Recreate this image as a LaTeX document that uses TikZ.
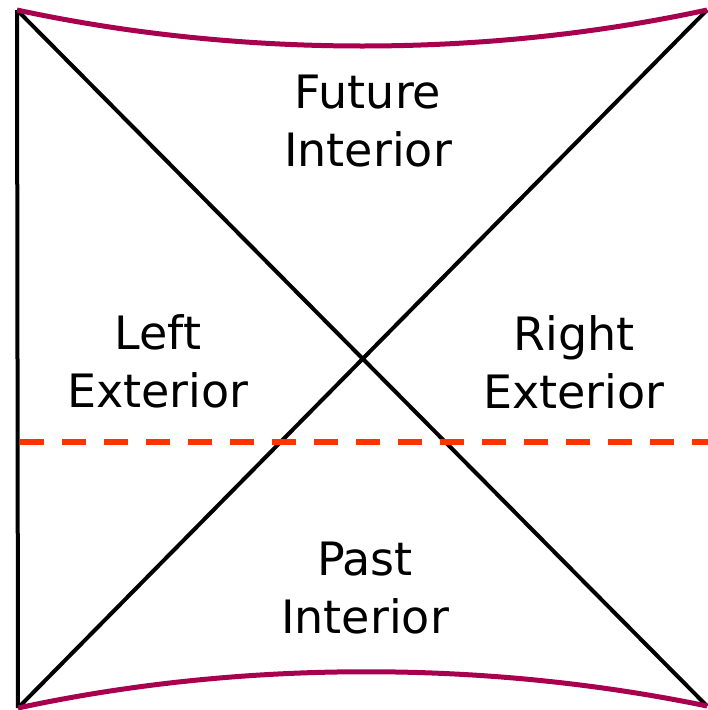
\documentclass[tikz,border=0pt]{standalone}
\usepackage{fontspec}
\setmainfont{DejaVu Sans}
\usepackage{tikz}
\usetikzlibrary{positioning}
\definecolor{HorizonBlack}{HTML}{000000}
\definecolor{SingularMagenta}{HTML}{A8004F}
\definecolor{SliceRed}{HTML}{FF3300}

\begin{document}
\begin{tikzpicture}[
      x=1pt, y=-1pt,
      horizon/.style={HorizonBlack, line width=4pt},
      singularity/.style={SingularMagenta, line width=5pt},
      slice/.style={SliceRed, line width=5.5pt, dash pattern=on 24pt off 18pt},
      region/.style={align=center, font=\fontsize{46}{58}\selectfont, inner sep=0pt}
  ]
    \useasboundingbox (0,0) rectangle (708,710);
    % corners of the diagram
    \coordinate (tl) at (17,10);
    \coordinate (tr) at (707,10);
    \coordinate (bl) at (18,708);
    \coordinate (br) at (707,706);
    \coordinate (sliceL) at (20,442);
    \coordinate (sliceR) at (708,442);

    \draw[horizon] (tl) -- (bl);
    \draw[horizon] (tl) -- (br);
    \draw[horizon] (bl) -- (tr);
    \draw[singularity] (tl) .. controls (240,58) and (485,58) .. (tr);
    \draw[singularity] (bl) .. controls (240,660) and (485,660) .. (br);
    \draw[slice] (sliceL) -- (sliceR);

    \node[region](future) at (368,121){Future\\Interior};
    \node[region](left) at (158,361){Left\\Exterior};
    \node[region](right) at (574,362){Right\\Exterior};
    \node[region](past) at (365,588){Past\\Interior};
  \end{tikzpicture}
\end{document}
